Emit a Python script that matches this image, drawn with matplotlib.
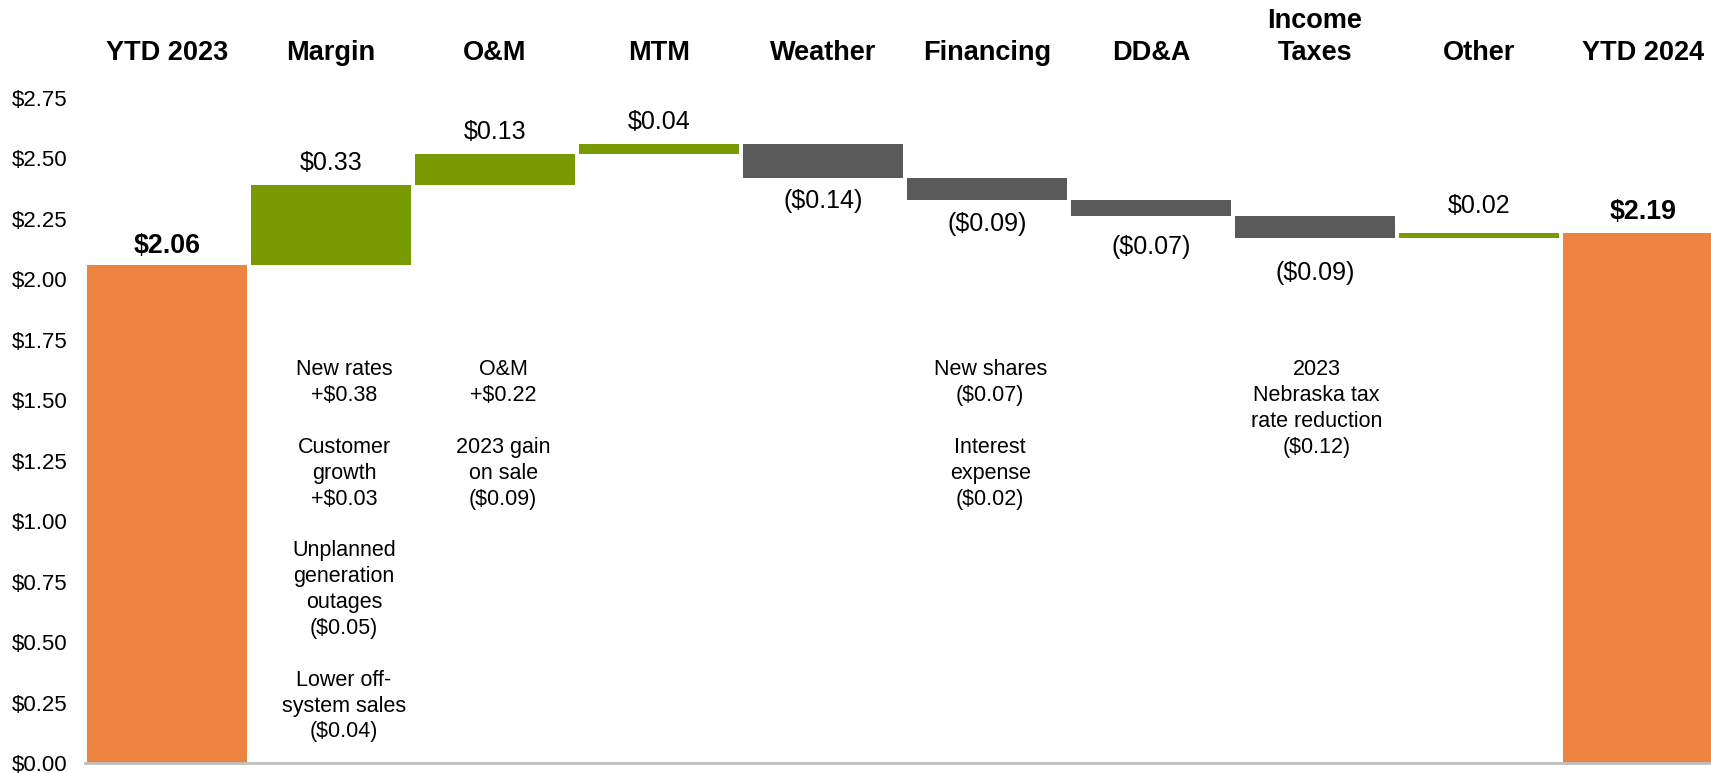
import matplotlib
matplotlib.use("Agg")
import matplotlib.pyplot as plt
from matplotlib.transforms import blended_transform_factory
import numpy as np

plt.rcParams['font.family'] = ['Liberation Sans', 'DejaVu Sans']

# ---- data ----
categories = ["YTD 2023", "Margin", "O&M", "MTM", "Weather", "Financing",
              "DD&A", "Income\nTaxes", "Other", "YTD 2024"]
start_total = 2.06
deltas = [0.33, 0.13, 0.04, -0.14, -0.09, -0.07, -0.09, 0.02]
end_total = 2.19
value_labels = ["$2.06", "$0.33", "$0.13", "$0.04", "($0.14)", "($0.09)",
                "($0.07)", "($0.09)", "$0.02", "$2.19"]
notes = {
    1: "New rates\n+$0.38\n\nCustomer\ngrowth\n+$0.03\n\nUnplanned\ngeneration\noutages\n($0.05)\n\nLower off-\nsystem sales\n($0.04)",
    2: "O&M\n+$0.22\n\n2023 gain\non sale\n($0.09)",
    5: "New shares\n($0.07)\n\nInterest\nexpense\n($0.02)",
    7: "2023\nNebraska tax\nrate reduction\n($0.12)",
}
yticks = [0.0, 0.25, 0.5, 0.75, 1.0, 1.25, 1.5, 1.75, 2.0, 2.25, 2.5, 2.75]

# ---- style / layout ----
ORANGE = "#ED8340"
GREEN = "#789B04"
GRAY = "#595959"
note_dx = {1: 0.08, 2: 0.05, 5: 0.02, 7: 0.01}
label_offsets = {1: 7, 2: 7, 3: 7, 4: -8.0, 5: -8.6, 6: -13.0, 7: -16.5, 8: 11}

W, H = 1711, 773
fig = plt.figure(figsize=(W / 100, H / 100), dpi=100)
ax = fig.add_axes([85 / W, 10 / H, 1640 / W, (763 - 98) / H])

x = np.arange(len(categories))
cum = start_total + np.cumsum(deltas)
prev = np.concatenate([[start_total], cum[:-1]])

# totals
ax.bar([x[0], x[-1]], [start_total, end_total], width=0.975, color=ORANGE, zorder=2)
# deltas
bottoms = np.minimum(prev, cum)
heights = np.abs(np.array(deltas))
colors = [GREEN if d > 0 else GRAY for d in deltas]
ax.bar(x[1:-1], heights, bottom=bottoms, width=0.975, color=colors, zorder=2)

# value labels
ax.annotate(value_labels[0], (x[0], start_total), xytext=(0, 4.5), textcoords="offset points",
            ha="center", va="bottom", fontsize=19.3, fontweight="bold")
ax.annotate(value_labels[-1], (x[-1], end_total), xytext=(0, 6), textcoords="offset points",
            ha="center", va="bottom", fontsize=19.3, fontweight="bold")
for i, d in enumerate(deltas):
    xi = x[i + 1]
    off = label_offsets[i + 1]
    ax.annotate(value_labels[i + 1], (xi, cum[i]), xytext=(0, off), textcoords="offset points",
                ha="center", va="bottom" if d > 0 else "top", fontsize=18)

# notes
for k, txt in notes.items():
    ax.text(x[k] + note_dx[k], 1.67, txt, ha="center", va="top", fontsize=15.5,
            linespacing=1.305)

# headers
tr = blended_transform_factory(ax.transData, fig.transFigure)
for xi, c in zip(x, categories):
    ax.text(xi, 1 - 66 / H, c, transform=tr, ha="center", va="bottom",
            fontsize=19.5, fontweight="bold", linespacing=1.3)

ax.set_xlim(-0.5, 9.5)
ax.set_ylim(0, 2.75)
ax.set_yticks(yticks)
ax.set_yticklabels([f"${v:.2f}" for v in yticks], fontsize=16)
ax.set_xticks([])
ax.tick_params(axis="y", length=0, pad=12.5)
for s in ["top", "right", "left"]:
    ax.spines[s].set_visible(False)
ax.spines["bottom"].set_color("#BFBFBF")
ax.spines["bottom"].set_linewidth(2)
ax.spines["bottom"].set_zorder(3)

fig.savefig("out.png", dpi=100)
